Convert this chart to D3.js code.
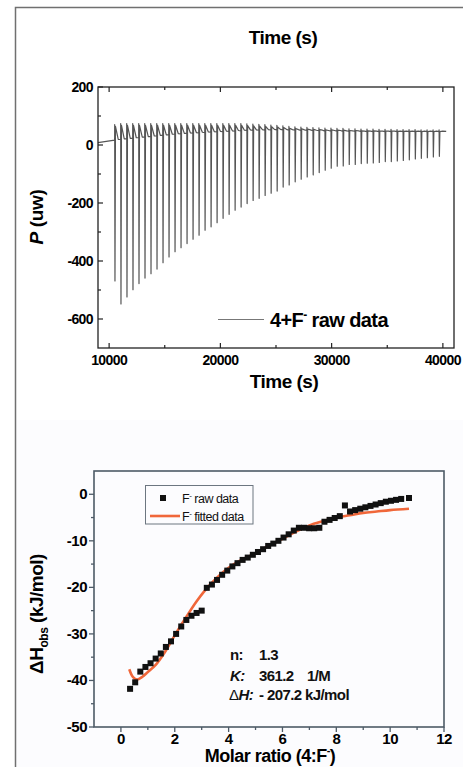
<!DOCTYPE html>
<html><head><meta charset="utf-8">
<script src="https://cdn.jsdelivr.net/npm/d3@7"></script>
<style>
html,body{margin:0;padding:0;background:#fff;}
svg{display:block;font-family:"Liberation Sans",Arial,sans-serif;}
.b{font-weight:bold;}
</style></head><body>
<script>
// ---------- Top panel data (ITC raw trace) ----------
const injectionTimes = [10500,11040,11580,12120,12660,13200,13740,14280,14820,15360,15900,16440,16980,17520,18060,18600,19140,19680,20220,20760,21300,21840,22380,22920,23460,24000,24540,25080,25620,26160,26700,27240,27780,28320,28860,29400,29940,30480,31020,31560,32100,32640,33180,33720,34260,34800,35340,35880,36420,36960,37500,38040,38580,39120,39660];
const spikeMin = [-469,-548,-524,-499,-478,-459,-444,-428,-406,-386,-368,-354,-340,-325,-311,-294,-282,-268,-253,-239,-225,-214,-202,-191,-184,-174,-166,-159,-145,-138,-127,-118,-110,-103,-95,-87,-80,-73,-72,-67,-67,-64,-63,-62,-60,-57,-57,-55,-53,-51,-48,-46,-44,-41,-39];
const spikeTop = [70,74,74,74,74,74,74,74,74,74,74,74,74,74,74,74,74,74,74,74,74,74,73,72,71,70,69,68,66,64,63,62,61,60,59,58,58,57,57,56,56,55,55,55,54,54,54,53,53,53,53,52,52,52,52];
const baseline = [17,19,21,23,25,27,29,31,33,35,37,38,40,41,42,43,44,45,46,47,48,49,50,50,51,51,52,52,52,51,51,50,50,49,49,48,48,48,47,47,47,46,46,46,46,46,46,46,46,46,46,46,46,46,46];
const traceStart = [9000, 8];
const traceEnd = [40300, 47];
const topXTicks = [10000,20000,30000,40000];
const topXMinor = [15000,25000,35000];
const topYTicks = [200,0,-200,-400,-600];
const topYMinor = [100,-100,-300,-500];

// ---------- Bottom panel data (integrated heats) ----------
const ratio = [0.34,0.53,0.72,0.91,1.10,1.29,1.48,1.67,1.86,2.05,2.24,2.43,2.62,2.81,3.00,3.19,3.38,3.57,3.76,3.95,4.14,4.33,4.52,4.71,4.90,5.09,5.28,5.47,5.66,5.85,6.04,6.23,6.42,6.61,6.80,6.99,7.18,7.37,7.56,7.75,7.94,8.13,8.32,8.51,8.70,8.89,9.08,9.27,9.46,9.65,9.84,10.03,10.22,10.41,10.70];
const dH = [-41.8,-40.4,-38.1,-37.1,-36.3,-35.3,-34.2,-32.8,-31.6,-30.0,-28.4,-27.0,-26.1,-25.5,-25.0,-20.1,-19.4,-18.4,-17.3,-16.4,-15.5,-14.8,-14.1,-13.6,-13.0,-12.4,-11.8,-11.1,-10.6,-10.0,-9.3,-8.6,-7.8,-7.2,-7.2,-7.3,-7.3,-7.2,-5.9,-5.5,-5.1,-4.7,-2.4,-3.7,-3.4,-3.1,-2.8,-2.5,-2.2,-1.9,-1.6,-1.4,-1.2,-1.0,-0.8];
const fitX = [0.31,0.45,0.6,0.8,1.0,1.3,1.6,1.9,2.2,2.5,2.8,3.1,3.4,3.8,4.2,4.6,5.0,5.5,6.0,6.5,7.0,7.5,8.0,8.5,9.0,9.5,10.0,10.7];
const fitY = [-37.6,-39.3,-39.8,-39.2,-38.2,-36.6,-34.2,-31.3,-28.4,-25.7,-23.1,-20.8,-18.9,-16.7,-15.0,-13.7,-12.7,-11.0,-9.6,-8.0,-6.7,-5.8,-5.0,-4.5,-4.0,-3.7,-3.4,-3.1];
const botXTicks = [0,2,4,6,8,10,12];
const botXMinor = [1,3,5,7,9,11];
const botYTicks = [0,-10,-20,-30,-40,-50];
const botYMinor = [-5,-15,-25,-35,-45];
const fitParams = [["n:", "1.3", ""], ["K:", "361.2", "1/M"], ["ΔH:", "- 207.2 kJ/mol", ""]];

const W = 463, H = 767;
const svg = d3.select("body").append("svg").attr("width", W).attr("height", H);

// subtle tint on the lower part
svg.append("rect").attr("x",15).attr("y",420).attr("width",W-15).attr("height",H-420).attr("fill","#fcfcfe");
// outer frame
svg.append("path").attr("d","M15.5,767 L15.5,7.5 L463,7.5").attr("fill","none").attr("stroke","#707070").attr("stroke-width",1.5);

// ================= TOP PANEL =================
const tx = d3.scaleLinear().domain([9000,41000]).range([98,454]);
const ty = d3.scaleLinear().domain([-700,200]).range([348,87]);
const gT = svg.append("g");

// trace
const pts = [traceStart];
injectionTimes.forEach((t,i)=>{
  pts.push([t-5, baseline[i]]);
  pts.push([t, spikeTop[i]]);
  pts.push([t+25, spikeMin[i]]);
  pts.push([t+70, spikeTop[i]-6]);
  pts.push([t+320, baseline[i]+2]);
});
pts.push(traceEnd);
gT.append("path").attr("d", d3.line().x(d=>tx(d[0])).y(d=>ty(d[1]))(pts))
  .attr("fill","none").attr("stroke","#555").attr("stroke-width",1.2).attr("stroke-linejoin","round");

// frame
gT.append("rect").attr("x",98).attr("y",87).attr("width",356).attr("height",261)
  .attr("fill","none").attr("stroke","#222").attr("stroke-width",1.3);
// ticks (inward)
const tk = gT.append("g").attr("stroke","#222").attr("stroke-width",1.2);
topXTicks.forEach(v=>{tk.append("line").attr("x1",tx(v)).attr("x2",tx(v)).attr("y1",348).attr("y2",343);
  tk.append("line").attr("x1",tx(v)).attr("x2",tx(v)).attr("y1",87).attr("y2",92);});
topXMinor.forEach(v=>{tk.append("line").attr("x1",tx(v)).attr("x2",tx(v)).attr("y1",348).attr("y2",345);
  tk.append("line").attr("x1",tx(v)).attr("x2",tx(v)).attr("y1",87).attr("y2",90);});
topYTicks.forEach(v=>{tk.append("line").attr("x1",98).attr("x2",103).attr("y1",ty(v)).attr("y2",ty(v));});
topYMinor.forEach(v=>{tk.append("line").attr("x1",98).attr("x2",101).attr("y1",ty(v)).attr("y2",ty(v));});

// tick labels
topXTicks.forEach(v=>gT.append("text").attr("class","b").attr("x",tx(v)).attr("y",365)
  .attr("text-anchor","middle").attr("font-size",14).attr("letter-spacing","-0.6").text(v));
topYTicks.forEach(v=>gT.append("text").attr("class","b").attr("x",93).attr("y",ty(v)+5)
  .attr("text-anchor","end").attr("font-size",14).attr("letter-spacing","-0.6").text(v));

// titles
gT.append("text").attr("class","b").attr("x",283).attr("y",44).attr("text-anchor","middle").attr("font-size",19).attr("letter-spacing","-0.5").text("Time (s)");
gT.append("text").attr("class","b").attr("x",284).attr("y",388).attr("text-anchor","middle").attr("font-size",19).attr("letter-spacing","-0.5").text("Time (s)");
const yl = gT.append("text").attr("class","b").attr("transform","translate(43,217) rotate(-90)")
  .attr("text-anchor","middle").attr("font-size",19).attr("letter-spacing","-0.3");
yl.append("tspan").attr("font-style","italic").text("P");
yl.append("tspan").text(" (uw)");

// legend
gT.append("line").attr("x1",218).attr("x2",264).attr("y1",319.5).attr("y2",319.5).attr("stroke","#777").attr("stroke-width",1.2);
const lt = gT.append("text").attr("class","b").attr("x",270).attr("y",327).attr("font-size",20).attr("letter-spacing","-0.6");
lt.append("tspan").text("4+F");
lt.append("tspan").attr("font-size",12).attr("dy",-8).text("-");
lt.append("tspan").attr("dy",8).text(" raw data");

// ================= BOTTOM PANEL =================
const bx = d3.scaleLinear().domain([-1,12]).range([94,444]);
const by = d3.scaleLinear().domain([-50,5]).range([727,471]);
const gB = svg.append("g");

// fit curve
gB.append("path").attr("d", d3.line().x((d,i)=>bx(fitX[i])).y((d,i)=>by(fitY[i])).curve(d3.curveCatmullRom)(fitX))
  .attr("fill","none").attr("stroke","#f0673a").attr("stroke-width",2.6);
// raw points
gB.selectAll("rect.pt").data(ratio).enter().append("rect")
  .attr("x",(d)=>bx(d)-3).attr("y",(d,i)=>by(dH[i])-3).attr("width",6).attr("height",6).attr("fill","#111");

// frame
gB.append("rect").attr("x",94).attr("y",471).attr("width",350).attr("height",256)
  .attr("fill","none").attr("stroke","#4d5a66").attr("stroke-width",1.6);
const tb = gB.append("g").attr("stroke","#4d5a66").attr("stroke-width",1.3);
botXTicks.forEach(v=>tb.append("line").attr("x1",bx(v)).attr("x2",bx(v)).attr("y1",727).attr("y2",732));
botXMinor.forEach(v=>tb.append("line").attr("x1",bx(v)).attr("x2",bx(v)).attr("y1",727).attr("y2",730));
botYTicks.forEach(v=>tb.append("line").attr("x1",94).attr("x2",89).attr("y1",by(v)).attr("y2",by(v)));
botYMinor.forEach(v=>tb.append("line").attr("x1",94).attr("x2",91).attr("y1",by(v)).attr("y2",by(v)));

botXTicks.forEach(v=>gB.append("text").attr("class","b").attr("x",bx(v)).attr("y",744)
  .attr("text-anchor","middle").attr("font-size",15).attr("letter-spacing","-0.5").text(v));
botYTicks.forEach(v=>gB.append("text").attr("class","b").attr("x",87).attr("y",by(v)+5)
  .attr("text-anchor","end").attr("font-size",15).attr("letter-spacing","-0.5").text(v));

// axis titles
const xl = gB.append("text").attr("class","b").attr("x",270).attr("y",762).attr("text-anchor","middle").attr("font-size",18).attr("letter-spacing","-0.5");
xl.append("tspan").text("Molar ratio (4:F");
xl.append("tspan").attr("font-size",11).attr("dy",-8).text("-");
xl.append("tspan").attr("dy",8).text(")");
const yl2 = gB.append("text").attr("class","b").attr("transform","translate(43,614) rotate(-90)")
  .attr("text-anchor","middle").attr("font-size",19).attr("letter-spacing","-0.5");
yl2.append("tspan").text("ΔH");
yl2.append("tspan").attr("font-size",12).attr("dy",5).text("obs");
yl2.append("tspan").attr("dy",-5).text(" (kJ/mol)");

// legend
gB.append("rect").attr("x",145.5).attr("y",485.5).attr("width",107.5).attr("height",38.5)
  .attr("fill","none").attr("stroke","#6c7680").attr("stroke-width",1);
gB.append("rect").attr("x",160).attr("y",495).attr("width",6).attr("height",6).attr("fill","#111");
gB.append("line").attr("x1",150).attr("x2",180).attr("y1",516).attr("y2",516).attr("stroke","#f0673a").attr("stroke-width",2.6);
[["raw data",502.5],["fitted data",520.5]].forEach(([s,y])=>{
  const t = gB.append("text").attr("x",182).attr("y",y).attr("font-size",12.5).attr("letter-spacing","-0.5").attr("fill","#111");
  t.append("tspan").text("F");
  t.append("tspan").attr("font-size",8).attr("dy",-5).text("-");
  t.append("tspan").attr("dy",5).text(" " + s);
});

// fit parameters
const pys = [660, 681, 700];
fitParams.forEach((p,i)=>{
  const t = gB.append("text").attr("class","b").attr("y",pys[i]).attr("font-size",15).attr("letter-spacing","-0.6").attr("fill","#111");
  if(i===0) t.append("tspan").attr("x",230).text(p[0]);
  if(i===1) t.append("tspan").attr("x",230).attr("font-style","italic").text(p[0]);
  if(i===2){ t.append("tspan").attr("x",229).attr("font-weight","normal").text("Δ"); t.append("tspan").attr("font-style","italic").text("H:"); }
  t.append("tspan").attr("x", 259).text(p[1]);
  if(p[2]) t.append("tspan").attr("x",307).text(p[2]);
});
</script>
</body></html>
